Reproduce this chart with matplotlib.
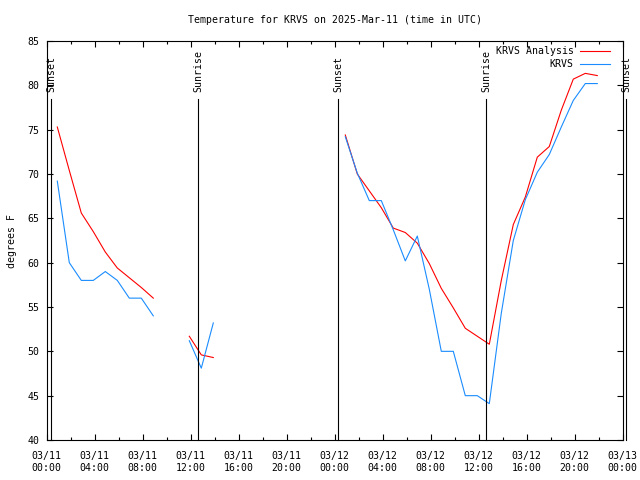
import matplotlib
matplotlib.use('Agg')
import matplotlib.pyplot as plt
import matplotlib.dates as mdates
import matplotlib.transforms as mtransforms
import numpy as np
import pandas as pd

# hourly obs (NaN rows just break the line where data is missing)
obs_times = pd.to_datetime([
    '2025-03-11 00:53', '2025-03-11 01:53', '2025-03-11 02:53', '2025-03-11 03:53',
    '2025-03-11 04:53', '2025-03-11 05:53', '2025-03-11 06:53', '2025-03-11 07:53',
    '2025-03-11 08:53', '2025-03-11 09:53',
    '2025-03-11 11:53', '2025-03-11 12:53', '2025-03-11 13:53', '2025-03-11 14:53',
    '2025-03-12 00:53', '2025-03-12 01:53', '2025-03-12 02:53', '2025-03-12 03:53',
    '2025-03-12 04:53', '2025-03-12 05:53', '2025-03-12 06:53', '2025-03-12 07:53',
    '2025-03-12 08:53', '2025-03-12 09:53', '2025-03-12 10:53', '2025-03-12 11:53',
    '2025-03-12 12:53', '2025-03-12 13:53', '2025-03-12 14:53', '2025-03-12 15:53',
    '2025-03-12 16:53', '2025-03-12 17:53', '2025-03-12 18:53', '2025-03-12 19:53',
    '2025-03-12 20:53', '2025-03-12 21:53',
])
analysis_temps = [
    75.3, 70.4, 65.6, 63.5, 61.2, 59.4, 58.3, 57.2, 56.0, np.nan,
    51.7, 49.6, 49.3, np.nan,
    74.4, 70.0, 68.1, 66.2, 63.9, 63.4, 62.2, 59.9, 57.1, 54.9, 52.6, 51.7,
    50.8, 58.0, 64.3, 67.4, 71.9, 73.1, 77.2, 80.7, 81.35, 81.1,
]
krvs_temps = [
    69.2, 60.0, 58.0, 58.0, 59.0, 58.0, 56.0, 56.0, 54.0, np.nan,
    51.2, 48.1, 53.2, np.nan,
    74.2, 70.1, 67.0, 67.0, 63.7, 60.2, 63.0, 57.0, 50.0, 50.0, 45.0, 45.0,
    44.1, 54.3, 62.5, 67.1, 70.2, 72.2, 75.3, 78.3, 80.2, 80.2,
]

sunset_times = pd.to_datetime(['2025-03-11 00:23', '2025-03-12 00:17', '2025-03-13 00:17'])
sunrise_times = pd.to_datetime(['2025-03-11 12:38', '2025-03-12 12:38'])

x_start = pd.Timestamp('2025-03-11 00:00')
x_end = pd.Timestamp('2025-03-13 00:00')

plt.rcParams['font.family'] = ['DejaVu Sans Mono']
fs = 7.1

fig = plt.figure(figsize=(6.4, 4.8), dpi=100)
ax = fig.add_axes([46.7 / 640, 40 / 480, 576 / 640, 399 / 480])

ax.plot(obs_times, analysis_temps, color='#ff0000', lw=0.8, label='KRVS Analysis')
ax.plot(obs_times, krvs_temps, color='#1a8cff', lw=0.8, label='KRVS')

# sunrise / sunset markers
trans = mtransforms.blended_transform_factory(ax.transData, ax.transAxes)
for name, times in [('Sunset', sunset_times), ('Sunrise', sunrise_times)]:
    for t in times:
        ax.plot([t, t], [0, 0.855], color='black', lw=0.8, transform=trans, clip_on=False)
        ax.text(t, 0.872, name, rotation=90, ha='center', va='bottom',
                fontsize=fs, transform=trans, clip_on=False)

ax.set_xlim(x_start, x_end)
ax.set_ylim(40, 85)
ax.set_yticks(np.arange(40, 86, 5))
ax.xaxis.set_major_locator(mdates.HourLocator(byhour=range(0, 24, 4)))
ax.xaxis.set_minor_locator(mdates.HourLocator(byhour=range(0, 24, 2)))
ax.xaxis.set_major_formatter(mdates.DateFormatter('%m/%d\n%H:%M'))

ax.tick_params(which='both', direction='in', top=True, right=True, labelsize=fs, width=0.8)
ax.tick_params(which='major', length=4)
ax.tick_params(which='minor', length=2.5)
ax.tick_params(axis='x', which='major', pad=8)
ax.tick_params(axis='y', which='major', pad=5)
for lbl in ax.get_xticklabels():
    lbl.set_linespacing(1.25)
for sp in ax.spines.values():
    sp.set_linewidth(0.8)

ax.set_ylabel('degrees F', fontsize=fs, labelpad=8)
ax.set_title('Temperature for KRVS on 2025-Mar-11 (time in UTC)', fontsize=fs, pad=13)

ax.legend(loc='upper right', bbox_to_anchor=(0.978, 0.9875), frameon=False,
          markerfirst=False, fontsize=fs, handlelength=3.0, handletextpad=0.7,
          labelspacing=0.33, borderaxespad=0, borderpad=0)

fig.savefig('out.png', dpi=100)
